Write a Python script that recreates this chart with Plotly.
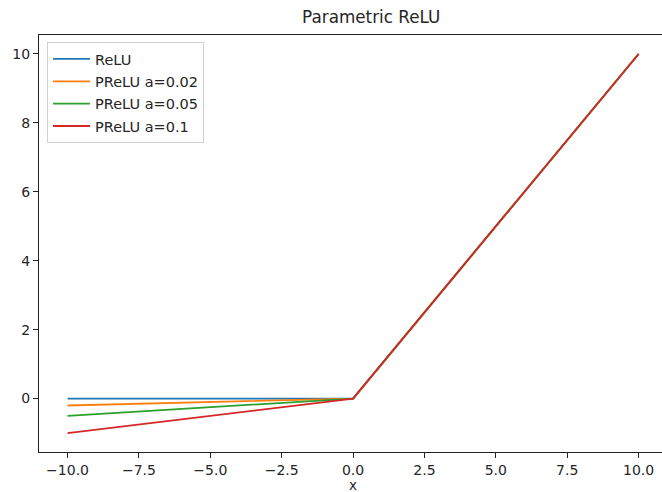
import plotly.graph_objects as go

# Data
x_vals = [-10.0, 0.0, 10.0]
relu = [0.0, 0.0, 10.0]
prelu_002 = [-0.2, 0.0, 10.0]
prelu_005 = [-0.5, 0.0, 10.0]
prelu_01 = [-1.0, 0.0, 10.0]

series_names = ["ReLU", "PReLU a=0.02", "PReLU a=0.05", "PReLU a=0.1"]
series_values = [relu, prelu_002, prelu_005, prelu_01]
colors = ["#1f77b4", "#ff7f0e", "#2ca02c", "#d62728"]

x_tickvals = [-10, -7.5, -5, -2.5, 0, 2.5, 5, 7.5, 10]
x_ticktext = ["−10.0", "−7.5", "−5.0", "−2.5", "0.0", "2.5", "5.0", "7.5", "10.0"]
y_tickvals = [0, 2, 4, 6, 8, 10]
y_ticktext = ["0", "2", "4", "6", "8", "10"]

fig = go.Figure()
for i, (name, vals, c) in enumerate(zip(series_names, series_values, colors)):
    fig.add_trace(go.Scatter(
        x=x_vals, y=vals, mode="lines", name=name,
        line=dict(color=c, width=1.8),
        legendgroup=f"g{i}",
    ))

font_family = "DejaVu Sans"
axis_color = "#222222"
txt = "#262626"

fig.update_layout(
    width=662, height=492,
    margin=dict(l=39, r=0, t=35, b=40, pad=0),
    paper_bgcolor="white", plot_bgcolor="white",
    title=dict(text="Parametric ReLU", x=353 / 662, xref="paper", xanchor="center",
               y=1 - 17 / 492, yanchor="middle",
               font=dict(family=font_family, size=16.8, color=txt)),
    font=dict(family=font_family, size=14, color=txt),
    showlegend=True,
    legend=dict(
        x=8 / 623, xanchor="left", y=1 - 7 / 417, yanchor="top",
        bgcolor="rgba(255,255,255,0.8)", bordercolor="#d0d0d0", borderwidth=1,
        font=dict(family=font_family, size=14.5, color=txt),
        traceorder="grouped", tracegroupgap=0.5, itemwidth=37,
    ),
    xaxis=dict(
        range=[-11.0, 10.82], showgrid=False, zeroline=False, automargin=False,
        showline=True, linecolor=axis_color, linewidth=1, mirror=True,
        ticks="outside", ticklen=5, tickcolor=axis_color, tickwidth=1,
        tickvals=x_tickvals, ticktext=x_ticktext,
        tickfont=dict(family=font_family, size=14, color=txt),
    ),
    yaxis=dict(
        range=[-1.55, 10.55], showgrid=False, zeroline=False, automargin=False,
        showline=True, linecolor=axis_color, linewidth=1, mirror=False,
        ticks="outside", ticklen=5, tickcolor=axis_color, tickwidth=1,
        tickvals=y_tickvals, ticktext=y_ticktext,
        tickfont=dict(family=font_family, size=14, color=txt),
    ),
    annotations=[dict(
        text="x", xref="paper", yref="paper", x=(353 - 39) / 623, y=0,
        xanchor="center", yanchor="top", yshift=-23, showarrow=False,
        font=dict(family=font_family, size=13.5, color=txt),
    )],
)

fig.write_html(
    "out.html",
    config={"displayModeBar": False},
    post_script="document.body.style.margin='0';document.body.style.overflow='hidden';",
)
